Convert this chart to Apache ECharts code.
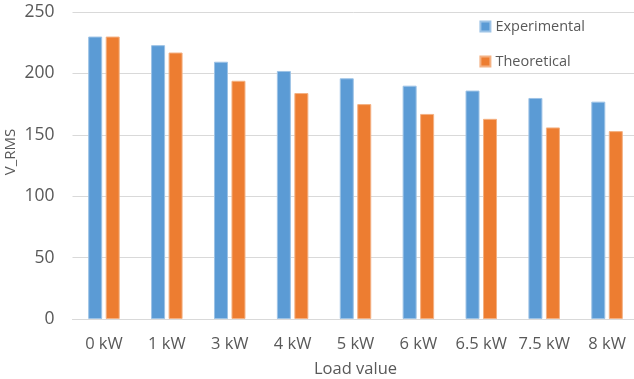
<!DOCTYPE html>
<html>
<head>
<meta charset="utf-8">
<script src="https://cdn.jsdelivr.net/npm/echarts@6/dist/echarts.min.js"></script>
<style>
  html, body { margin: 0; padding: 0; background: #fff; }
  #chart { width: 634px; height: 379px; }
</style>
</head>
<body>
<div id="chart"></div>
<script>
// Load steps and measured / computed RMS voltages
const categories = ['0 kW', '1 kW', '3 kW', '4 kW', '5 kW', '6 kW', '6.5 kW', '7.5 kW', '8 kW'];
const experimental = [230, 223, 209.5, 202, 196, 190, 186, 180, 177];
const theoretical = [230, 217, 194, 184, 175, 167, 163, 156, 153];
const yTicks = [0, 50, 100, 150, 200, 250];

const textColor = '#595959';
const font = '"Open Sans", "Liberation Sans", sans-serif';

const chart = echarts.init(document.getElementById('chart'));
chart.setOption({
  animation: false,
  grid: { left: 72.5, right: -4.5, top: 12, bottom: 60, outerBoundsMode: 'none', containLabel: false },
  // vertical axis title, placed slightly above the plot's middle
  graphic: [{
    type: 'text',
    x: 11,
    y: 152,
    rotation: Math.PI / 2,
    style: {
      text: 'V_RMS',
      fill: textColor,
      font: '15px ' + font,
      align: 'center',
      verticalAlign: 'middle'
    }
  }],
  legend: {
    orient: 'vertical',
    right: 44,
    top: 14,
    itemWidth: 10,
    itemHeight: 10,
    itemGap: 20,
    icon: 'rect',
    textStyle: { color: textColor, fontSize: 14.5, fontFamily: font },
    data: ['Experimental', 'Theoretical']
  },
  xAxis: {
    type: 'category',
    data: categories,
    name: 'Load value',
    nameLocation: 'middle',
    nameGap: 42,
    nameTextStyle: { color: textColor, fontSize: 16.5, fontFamily: font },
    axisLine: { lineStyle: { color: '#D9D9D9' } },
    axisTick: { show: false },
    axisLabel: { color: textColor, fontSize: 16.5, fontFamily: font, margin: 17, interval: 0 }
  },
  yAxis: {
    type: 'value',
    min: yTicks[0],
    max: yTicks[yTicks.length - 1],
    interval: 50,
    axisLine: { show: false },
    axisTick: { show: false },
    axisLabel: { color: textColor, fontSize: 17.5, fontFamily: font, margin: 18 },
    splitLine: { lineStyle: { color: '#D9D9D9' } }
  },
  series: [
    {
      name: 'Experimental',
      type: 'bar',
      data: experimental,
      barWidth: 14,
      barGap: '25%',
      itemStyle: { color: '#5B9BD5', borderColor: '#9DC3E6', borderWidth: 1 }
    },
    {
      name: 'Theoretical',
      type: 'bar',
      data: theoretical,
      barWidth: 14,
      barGap: '25%',
      itemStyle: { color: '#ED7D31', borderColor: '#F4B183', borderWidth: 1 }
    }
  ]
});
</script>
</body>
</html>
